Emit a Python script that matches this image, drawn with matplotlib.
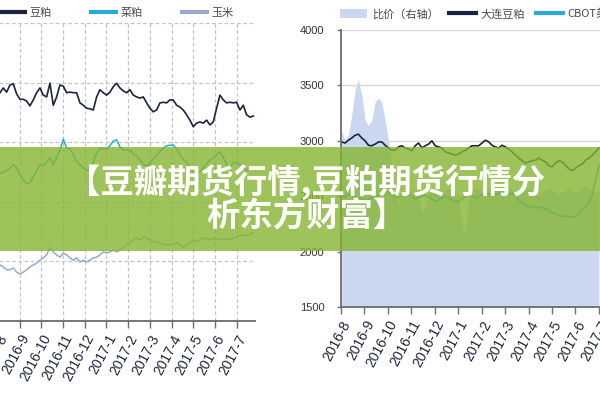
import numpy as np
import matplotlib
matplotlib.use('Agg')
import matplotlib.pyplot as plt
from matplotlib.patches import Rectangle, Patch
from matplotlib.lines import Line2D

plt.rcParams['font.family'] = ['Noto Sans CJK SC', 'DejaVu Sans']

month_labels = ['2016-8', '2016-9', '2016-10', '2016-11', '2016-12', '2017-1',
                '2017-2', '2017-3', '2017-4', '2017-5', '2017-6', '2017-7']

# ---------------- left chart: 豆粕 / 菜粕 / 玉米 ----------------
doupo = [3415, 3455, 3420, 3480, 3490, 3405, 3360, 3360, 3345, 3305, 3355, 3415, 3455,
         3395, 3380, 3495, 3310, 3380, 3480, 3470, 3415, 3420, 3415, 3415, 3330, 3310,
         3285, 3280, 3270, 3380, 3440, 3415, 3395, 3420, 3465, 3495, 3455, 3430, 3415,
         3440, 3395, 3380, 3370, 3380, 3330, 3285, 3255, 3270, 3330, 3335, 3330, 3355,
         3355, 3310, 3295, 3270, 3230, 3185, 3130, 3160, 3170, 3160, 3185, 3145, 3170,
         3285, 3395, 3355, 3330, 3335, 3330, 3335, 3270, 3310, 3230, 3210, 3220]
caipo = [2740, 2750, 2760, 2785, 2810, 2785, 2725, 2685, 2650, 2660, 2715, 2760, 2810,
         2800, 2835, 2870, 2810, 2870, 2935, 3025, 2950, 2945, 2895, 2840, 2810, 2785,
         2765, 2775, 2835, 2910, 2950, 2945, 2945, 2970, 3010, 3020, 2960, 2935, 2935,
         2935, 2900, 2885, 2850, 2815, 2800, 2825, 2860, 2885, 2925, 2950, 2970, 2975,
         2975, 2945, 2895, 2860, 2835, 2785, 2750, 2740, 2750, 2785, 2815, 2850, 2875,
         2895, 2920, 2870, 2815, 2790, 2825, 2835, 2810, 2785, 2765, 2785, 2785]
yumi = [1970, 1955, 1930, 1930, 1945, 1910, 1895, 1910, 1930, 1955, 1970, 1985, 2010,
        2030, 2055, 2115, 2080, 2055, 2035, 2070, 2055, 2030, 2010, 2030, 1995, 2010,
        1995, 2010, 2030, 2035, 2055, 2080, 2070, 2080, 2095, 2080, 2095, 2115, 2140,
        2165, 2180, 2195, 2180, 2205, 2195, 2180, 2165, 2165, 2155, 2140, 2140, 2140,
        2140, 2155, 2140, 2120, 2140, 2155, 2180, 2165, 2180, 2195, 2195, 2180, 2195,
        2180, 2195, 2180, 2195, 2180, 2195, 2205, 2220, 2220, 2220, 2230, 2240]

# ---------------- right chart: 比价 / 大连豆粕 / CBOT美豆 ----------------
dalian = [2990, 2980, 3005, 3025, 3050, 3060, 3025, 3000, 2960, 2955, 2970, 2990, 2990,
          2960, 2935, 2915, 2915, 2945, 2955, 2935, 2925, 2910, 2955, 2980, 2935, 2955,
          2970, 3000, 2955, 2945, 2935, 2900, 2890, 2880, 2870, 2880, 2900, 2915, 2935,
          2955, 2955, 2955, 2980, 3005, 2990, 2960, 2945, 2935, 2960, 2945, 2925, 2900,
          2870, 2845, 2820, 2800, 2810, 2820, 2825, 2845, 2825, 2810, 2775, 2765, 2800,
          2820, 2810, 2780, 2745, 2730, 2755, 2775, 2790, 2825, 2845, 2870, 2900, 2935]
cbot = [2495, 2500, 2510, 2520, 2500, 2485, 2475, 2465, 2475, 2485, 2495, 2510, 2540,
        2555, 2530, 2510, 2495, 2485, 2500, 2520, 2510, 2495, 2475, 2485, 2500, 2510,
        2495, 2475, 2455, 2465, 2485, 2495, 2485, 2465, 2450, 2455, 2475, 2495, 2510,
        2500, 2485, 2495, 2510, 2530, 2520, 2500, 2510, 2530, 2540, 2520, 2510, 2530,
        2500, 2465, 2440, 2420, 2405, 2405, 2395, 2395, 2405, 2385, 2375, 2350, 2340,
        2330, 2320, 2320, 2310, 2310, 2320, 2340, 2385, 2405, 2440, 2510, 2645, 2780]
ratio = [4.19, 4.01, 4.10, 4.46, 4.92, 5.10, 4.83, 4.37, 4.28, 4.37, 4.70, 4.77, 4.70,
         4.37, 4.01, 3.56, 3.11, 2.84, 3.07, 3.11, 3.15, 3.11, 3.07, 3.02, 2.71, 2.79,
         3.06, 3.11, 3.15, 3.11, 3.07, 3.11, 3.15, 3.11, 3.07, 3.02, 2.48, 2.33, 2.93,
         3.11, 3.15, 3.11, 3.07, 3.11, 3.15, 3.18, 3.15, 3.11, 3.07, 3.11, 3.15, 3.11,
         3.06, 3.02, 3.07, 3.11, 3.15, 3.11, 3.07, 3.02, 3.06, 3.11, 3.15, 3.11, 3.07,
         3.04, 3.07, 3.11, 3.15, 3.11, 3.07, 3.11, 3.15, 3.18, 3.15, 3.11, 3.07, 3.11]

NAVY = '#1c2340'
TEAL = '#2aa8d8'
CORN = '#98aacb'
FILL = '#cad7ee'
TICKFONT = ['Liberation Sans', 'DejaVu Sans']

fig = plt.figure(figsize=(6, 4), dpi=100)

# ---------- left ----------
axl = fig.add_axes([-15/600, 79/400, 270/600, 298/400])
xl = np.linspace(0.09, 11.77, len(doupo))
axl.plot(xl, yumi, color=CORN, lw=1.1)
axl.plot(xl, caipo, color=TEAL, lw=1.1)
axl.plot(xl, doupo, color=NAVY, lw=1.2)
axl.set_xlim(-0.6, 11.85)
axl.set_ylim(1500, 4000)
axl.set_yticks([1500, 2000, 2500, 3000, 3500, 4000])
axl.set_xticks(range(12))
axl.set_xticklabels(month_labels, rotation=62, ha='right', va='top',
                    rotation_mode='anchor', fontsize=10, family=TICKFONT, color='#1e2636')
axl.tick_params(axis='y', length=0, labelleft=False)
axl.tick_params(axis='x', length=5, width=1, color='#707070', pad=3, direction='out')
axl.grid(True, color='#c4c4c4', ls=(0, (3, 2)), lw=0.9)
for s in ['left', 'right', 'top']:
    axl.spines[s].set_visible(False)
axl.spines['bottom'].set_color('#6b6b6b')
axl.spines['bottom'].set_linewidth(1.3)

hl = [Line2D([], [], color=NAVY, lw=3), Line2D([], [], color=TEAL, lw=3),
      Line2D([], [], color=CORN, lw=3)]
axl.legend(hl, ['豆粕', '菜粕', '玉米'], ncol=3, loc='center left',
           bbox_to_anchor=(0.0, 1 - 13/400), bbox_transform=fig.transFigure,
           frameon=False, fontsize=8, handlelength=2.25, handletextpad=0.4,
           columnspacing=3.55, borderpad=0, borderaxespad=0, labelcolor='#4a4a4a')

# ---------- right ----------
axr = fig.add_axes([341/600, 93/400, 272/600, 277/400])
axr2 = axr.twinx()
xr = np.linspace(0.03, 11.0, len(dalian))
axr2.fill_between(xr, ratio, 1.0, color=FILL, lw=0, zorder=2)
axr2.set_ylim(1.0, 6.0)
axr2.set_yticks([1, 2, 3, 4, 5, 6])
axr2.tick_params(axis='y', length=0, labelright=False)
axr2.grid(True, color='#d6d6d6', lw=0.9)
axr2.set_axisbelow(True)
for s in axr2.spines.values():
    s.set_visible(False)

axr.set_zorder(axr2.get_zorder() + 1)
axr.patch.set_visible(False)
axr.plot(xr, cbot, color=TEAL, lw=1.1)
axr.plot(xr, dalian, color=NAVY, lw=1.2)
axr.set_xlim(0, 11.6)
axr.set_ylim(1500, 4000)
axr.set_yticks([1500, 2000, 2500, 3000, 3500, 4000])
axr.set_yticklabels(['1500', '2000', '2500', '3000', '3500', '4000'],
                    fontsize=8, family=TICKFONT, color='#333333')
axr.set_xticks(range(12))
axr.set_xticklabels(month_labels, rotation=62, ha='right', va='top',
                    rotation_mode='anchor', fontsize=10, family=TICKFONT, color='#1e2636')
axr.tick_params(axis='x', length=5, width=1, color='#707070', pad=3)
axr.tick_params(axis='y', length=3, width=1, color='#707070', pad=9)
for s in ['right', 'top']:
    axr.spines[s].set_visible(False)
for s in ['left', 'bottom']:
    axr.spines[s].set_color('#6b6b6b')
    axr.spines[s].set_linewidth(1.3)

hr = [Patch(facecolor=FILL, edgecolor='none'), Line2D([], [], color=NAVY, lw=3),
      Line2D([], [], color=TEAL, lw=3)]
axr.legend(hr, ['比价（右轴）', '大连豆粕', 'CBOT美豆'], ncol=3, loc='center left',
           bbox_to_anchor=(340/600, 1 - 14/400), bbox_transform=fig.transFigure,
           frameon=False, fontsize=8, handlelength=2.45, handleheight=0.9,
           handletextpad=0.4, columnspacing=0.95, borderpad=0, borderaxespad=0,
           labelcolor='#4a4a4a')

# ---------- banner ----------
fig.add_artist(Rectangle((0, 149/400), 1, 104/400, transform=fig.transFigure,
                         facecolor='#86b531', alpha=0.8, edgecolor='none', zorder=10))
fig.text(306/600, 1 - 199/400, '【豆瓣期货行情,豆粕期货行情分\n析东方财富】',
         ha='center', va='center', multialignment='center', linespacing=1.0,
         fontsize=24, weight='bold', color='white', zorder=11)

fig.savefig('out.png', dpi=100)
